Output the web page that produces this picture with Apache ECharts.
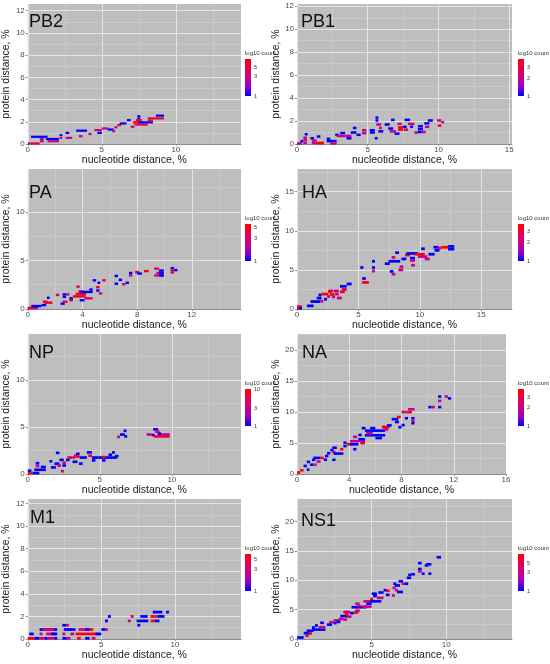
<!DOCTYPE html>
<html>
<head>
<meta charset="utf-8">
<script src="https://cdn.jsdelivr.net/npm/echarts@6/dist/echarts.min.js"></script>
<style>
  html, body { margin: 0; padding: 0; background: #fff; }
  #main { width: 550px; height: 664px; }
</style>
</head>
<body>
<div id="main"></div>
<script>
// each cell run: [x start, x end, protein distance (bin centre), count]
var pb2Cells = [
  [0.00, 0.20, 0.05, 3], [0.20, 0.55, 0.05, 6], [0.55, 0.80, 0.05, 3],
  [0.22, 1.33, 0.65, 1], [0.82, 1.08, 0.45, 3], [0.82, 1.08, 0.25, 3],
  [1.22, 2.10, 0.45, 1], [1.33, 2.10, 0.25, 3], [2.15, 2.33, 0.80, 1],
  [2.15, 2.33, 0.55, 3], [2.55, 3.00, 0.55, 3], [2.55, 2.80, 1.00, 1],
  [3.27, 4.00, 1.20, 1], [3.45, 3.70, 0.70, 3], [4.10, 4.30, 0.90, 3],
  [4.50, 5.00, 1.25, 3], [4.70, 5.00, 1.00, 1], [5.00, 5.45, 1.40, 3],
  [5.40, 5.80, 1.30, 1], [5.70, 5.90, 1.15, 3], [5.85, 6.05, 1.50, 3],
  [6.05, 6.30, 1.70, 6], [6.20, 6.67, 1.85, 1], [6.70, 6.95, 2.15, 1],
  [6.95, 7.20, 1.55, 3], [7.10, 7.45, 1.95, 6], [7.40, 7.60, 2.30, 1],
  [7.40, 7.60, 2.50, 1], [7.30, 7.70, 2.15, 6], [7.20, 8.10, 1.75, 6],
  [7.45, 8.45, 1.95, 1], [8.10, 8.45, 2.10, 3], [8.10, 9.20, 2.30, 6],
  [8.65, 9.20, 2.55, 1]
];
var pb1Cells = [
  [0.00, 0.35, 0.05, 2], [0.25, 0.45, 0.25, 1], [0.45, 0.70, 0.10, 2],
  [0.45, 0.70, 0.35, 2], [0.45, 0.70, 0.55, 2], [0.55, 0.75, 0.85, 1],
  [0.95, 1.20, 0.50, 1], [1.05, 1.40, 0.30, 2], [1.05, 1.90, 0.08, 2],
  [1.40, 1.90, 0.08, 4], [1.40, 1.65, 0.65, 1], [2.10, 2.35, 0.45, 1],
  [2.10, 2.80, 0.25, 1], [2.35, 2.80, 0.05, 2], [2.70, 2.95, 0.80, 1],
  [2.80, 3.40, 0.70, 2], [3.05, 3.40, 0.95, 1], [3.40, 3.85, 0.70, 2],
  [3.50, 3.85, 0.50, 1], [3.80, 4.20, 1.00, 1], [3.95, 4.20, 1.40, 1],
  [4.20, 4.50, 0.80, 1], [4.60, 4.90, 0.95, 2], [4.60, 4.90, 1.20, 2],
  [5.15, 5.50, 1.00, 1], [5.15, 5.50, 1.20, 1], [5.50, 5.70, 0.50, 1],
  [5.55, 5.75, 2.05, 1], [5.55, 5.75, 2.30, 1], [5.60, 5.95, 1.70, 2],
  [5.75, 6.10, 1.10, 1], [5.80, 6.00, 1.40, 2], [6.20, 6.55, 1.70, 1],
  [6.45, 6.80, 1.35, 1], [6.55, 7.00, 1.10, 2], [6.65, 6.90, 2.10, 1],
  [6.90, 7.25, 0.90, 1], [7.15, 7.50, 1.25, 4], [7.15, 7.50, 1.45, 4],
  [7.10, 7.40, 1.75, 2], [7.50, 7.75, 1.50, 1], [7.55, 7.85, 1.25, 2],
  [7.60, 8.00, 2.10, 1], [7.85, 8.30, 1.75, 2], [8.00, 8.20, 1.50, 1],
  [8.30, 8.55, 1.00, 2], [8.55, 8.90, 1.05, 1], [8.55, 8.90, 1.30, 1],
  [8.55, 8.90, 1.55, 1], [8.80, 9.10, 1.05, 2], [9.00, 9.35, 1.80, 1],
  [9.25, 9.60, 2.05, 1], [9.05, 9.35, 1.50, 2], [9.95, 10.20, 1.60, 4],
  [9.90, 10.20, 2.05, 2], [10.20, 10.40, 1.90, 2]
];
var paCells = [
  [0.00, 0.75, 0.10, 3], [0.00, 0.30, 0.10, 5], [0.25, 1.00, 0.30, 1],
  [1.00, 1.35, 0.40, 1], [1.10, 1.45, 0.75, 3], [1.20, 1.80, 0.65, 5],
  [1.40, 1.60, 1.15, 1], [2.05, 2.30, 1.45, 3], [2.40, 2.70, 0.55, 1],
  [2.55, 2.80, 1.50, 1], [2.55, 2.80, 1.25, 1], [2.55, 2.90, 0.75, 3],
  [2.80, 3.05, 1.50, 3], [3.05, 3.30, 0.90, 5], [3.05, 3.30, 1.10, 1],
  [3.55, 3.80, 2.30, 3], [3.30, 4.25, 1.30, 5], [3.50, 4.25, 1.55, 5],
  [3.70, 4.10, 1.80, 3], [3.80, 4.75, 1.75, 1], [3.80, 4.15, 0.90, 1],
  [4.15, 4.75, 1.10, 3], [4.50, 4.75, 2.00, 1], [4.75, 5.00, 2.95, 1],
  [5.10, 5.30, 2.70, 1], [5.00, 5.25, 2.25, 5], [5.00, 5.25, 1.90, 1],
  [5.20, 5.45, 1.60, 3], [5.45, 5.70, 2.95, 5], [6.35, 6.60, 3.40, 1],
  [6.35, 6.60, 2.60, 1], [6.65, 6.90, 3.00, 1], [6.90, 7.15, 2.55, 3],
  [7.15, 7.40, 2.70, 1], [7.40, 7.65, 3.45, 3], [7.40, 7.65, 3.70, 1],
  [7.85, 8.15, 3.80, 3], [8.00, 8.35, 3.65, 1], [8.50, 8.85, 3.90, 5],
  [9.25, 9.60, 4.15, 3], [9.25, 9.95, 3.45, 3], [9.60, 9.95, 3.45, 1],
  [9.60, 9.95, 3.70, 1], [9.60, 9.95, 3.95, 1], [9.40, 9.60, 3.70, 3],
  [10.45, 10.70, 4.20, 1], [10.45, 10.70, 3.95, 5], [10.70, 10.95, 4.00, 1],
  [10.45, 10.70, 3.75, 3]
];
var haCells = [
  [0.00, 0.40, 0.30, 4], [0.00, 0.40, 0.10, 2], [0.15, 0.40, 0.10, 1],
  [0.80, 1.35, 0.40, 1], [1.10, 1.90, 0.95, 1], [1.60, 2.00, 1.40, 1],
  [1.90, 2.15, 1.00, 2], [1.75, 2.00, 1.80, 1], [2.00, 2.55, 1.90, 4],
  [2.20, 2.45, 1.25, 1], [2.45, 2.70, 1.60, 2], [2.55, 2.95, 2.30, 2],
  [2.55, 2.80, 2.20, 4], [2.85, 3.10, 1.55, 2], [2.70, 3.05, 1.85, 4],
  [3.00, 3.40, 2.30, 2], [3.10, 3.40, 1.90, 2], [3.25, 3.65, 1.40, 2],
  [3.50, 3.90, 2.20, 4], [3.50, 4.05, 2.90, 1], [3.65, 4.05, 2.50, 2],
  [4.05, 4.45, 3.20, 1], [5.15, 5.40, 5.30, 1], [5.30, 5.60, 3.90, 1],
  [5.30, 5.85, 3.40, 4], [6.10, 6.35, 6.10, 1], [6.10, 6.35, 5.30, 1],
  [6.10, 6.35, 4.85, 2], [7.15, 7.55, 5.80, 1], [7.45, 8.40, 6.10, 1],
  [7.55, 7.85, 4.80, 1], [7.70, 8.00, 4.45, 2], [7.70, 8.00, 6.60, 2],
  [8.00, 8.30, 7.20, 1], [8.25, 8.65, 5.00, 2], [8.35, 8.65, 5.40, 2],
  [8.50, 8.90, 6.40, 1], [8.80, 9.20, 6.90, 4], [8.90, 9.85, 7.10, 1],
  [9.20, 9.60, 6.50, 1], [9.20, 9.60, 6.20, 2], [9.30, 9.60, 5.60, 2],
  [9.60, 10.40, 7.00, 4], [9.85, 10.60, 6.70, 2], [10.10, 10.40, 7.70, 1],
  [10.40, 10.80, 6.40, 2], [10.70, 11.20, 7.00, 1], [11.10, 11.50, 7.90, 1],
  [11.20, 11.60, 7.50, 1], [11.45, 11.75, 7.80, 2], [11.75, 12.30, 7.90, 4],
  [12.30, 12.80, 8.00, 1], [12.30, 12.80, 7.65, 1]
];
var npCells = [
  [0.00, 0.35, 0.10, 8], [0.00, 0.25, 0.35, 1], [0.35, 0.80, 0.10, 1],
  [0.55, 0.80, 0.85, 3], [0.55, 0.80, 1.15, 1], [0.45, 1.25, 0.45, 1],
  [0.90, 1.25, 0.75, 1], [1.50, 1.70, 1.35, 1], [1.60, 1.95, 0.70, 1],
  [1.95, 2.20, 2.25, 1], [1.85, 2.20, 1.10, 1], [2.05, 2.30, 0.90, 3],
  [2.20, 2.50, 1.50, 1], [2.30, 2.50, 0.30, 3], [2.40, 2.65, 1.20, 3],
  [2.40, 2.65, 0.90, 1], [2.65, 2.90, 1.50, 1], [2.75, 3.10, 1.75, 3],
  [3.10, 3.30, 1.75, 8], [3.10, 3.45, 1.30, 1], [3.20, 3.45, 1.95, 3],
  [3.35, 3.60, 2.15, 1], [3.35, 3.60, 1.85, 8], [3.55, 3.80, 1.10, 1],
  [3.60, 4.10, 1.75, 1], [4.10, 4.45, 2.30, 1], [4.20, 4.45, 1.95, 8],
  [4.45, 4.70, 1.45, 1], [4.45, 4.90, 1.75, 1], [4.90, 6.20, 1.75, 1],
  [5.15, 5.40, 1.80, 8], [5.15, 5.40, 1.45, 1], [5.60, 5.85, 2.05, 1],
  [5.85, 6.05, 2.30, 1], [6.05, 6.30, 1.90, 1], [6.20, 6.40, 3.95, 3],
  [6.40, 6.75, 4.20, 1], [6.65, 6.85, 4.60, 1], [6.70, 6.90, 4.00, 1],
  [8.25, 8.60, 4.20, 3], [8.60, 8.80, 4.15, 1], [8.70, 9.05, 4.75, 1],
  [8.85, 9.15, 4.50, 3], [8.75, 9.85, 4.00, 8], [9.00, 9.85, 4.20, 3],
  [9.05, 9.25, 4.30, 1]
];
var naCells = [
  [0.00, 0.25, 0.25, 4], [0.25, 0.50, 0.60, 4], [0.75, 0.95, 0.70, 1],
  [0.50, 0.75, 1.30, 1], [0.75, 1.00, 1.95, 1], [1.00, 1.25, 1.50, 1],
  [1.25, 1.50, 1.50, 2], [1.15, 1.40, 2.30, 1], [1.25, 1.80, 2.60, 1],
  [1.80, 2.05, 2.60, 4], [1.50, 1.80, 2.00, 2], [2.05, 2.30, 2.30, 1],
  [2.30, 2.55, 3.35, 1], [2.15, 2.40, 2.90, 1], [2.55, 2.80, 3.85, 1],
  [2.70, 2.95, 2.30, 1], [2.70, 3.05, 4.25, 1], [2.70, 2.95, 3.55, 2],
  [2.80, 3.55, 3.30, 1], [3.30, 3.55, 4.00, 4], [3.55, 3.80, 5.05, 1],
  [3.55, 3.80, 4.50, 1], [3.80, 4.30, 4.80, 4], [4.05, 5.20, 5.30, 2],
  [4.30, 4.60, 6.00, 2], [4.05, 4.70, 4.80, 1], [4.30, 4.55, 4.00, 1],
  [4.70, 5.20, 5.60, 1], [4.85, 5.20, 5.00, 4], [4.95, 5.25, 7.40, 1],
  [4.70, 4.95, 6.30, 1], [5.20, 6.75, 6.25, 1], [5.20, 6.75, 7.00, 1],
  [5.30, 5.80, 6.60, 2], [5.60, 6.00, 7.40, 1], [6.00, 6.50, 5.80, 1],
  [6.50, 7.10, 7.60, 4], [6.60, 7.00, 7.20, 2], [6.90, 7.25, 7.85, 1],
  [7.25, 7.75, 8.85, 1], [7.50, 7.80, 8.40, 1], [7.65, 7.95, 9.20, 4],
  [7.75, 8.00, 7.55, 1], [8.00, 8.25, 7.90, 1], [8.00, 8.40, 10.00, 2],
  [8.40, 8.80, 10.00, 4], [8.50, 9.00, 10.45, 2], [8.25, 8.50, 9.00, 1],
  [8.75, 9.00, 9.00, 1], [8.75, 9.00, 8.20, 1], [8.75, 9.00, 8.60, 2],
  [10.05, 10.30, 10.80, 1], [10.30, 10.55, 10.80, 2], [10.80, 11.05, 10.80, 1],
  [10.80, 11.05, 11.80, 2], [10.80, 11.05, 12.50, 1], [11.30, 11.55, 12.50, 2],
  [11.55, 11.80, 12.20, 1]
];
var m1Cells = [
  [0.00, 0.45, 0.06, 6], [0.45, 0.80, 0.06, 1], [0.80, 1.15, 0.06, 3],
  [1.15, 1.35, 0.06, 1], [1.35, 1.80, 0.06, 3], [1.80, 2.00, 0.06, 1],
  [2.35, 2.65, 0.06, 1], [2.65, 2.90, 0.06, 3], [3.35, 3.60, 0.06, 6],
  [3.90, 4.20, 0.06, 1], [4.35, 4.60, 0.06, 3], [0.10, 0.40, 0.45, 1],
  [0.80, 1.00, 0.45, 3], [1.25, 1.90, 0.45, 3], [1.60, 2.00, 0.45, 1],
  [2.35, 2.55, 0.45, 3], [2.90, 3.15, 0.45, 3], [3.25, 4.80, 0.45, 6],
  [4.60, 5.00, 0.45, 1], [0.80, 2.00, 0.84, 1], [1.00, 1.80, 0.84, 3],
  [2.45, 3.25, 0.84, 1], [3.45, 4.15, 0.84, 3], [4.05, 4.45, 0.84, 6],
  [3.90, 4.20, 0.84, 1], [5.00, 5.25, 0.84, 1], [5.25, 5.45, 0.84, 3],
  [2.35, 2.60, 1.22, 1], [2.60, 2.80, 1.22, 3], [5.25, 5.45, 1.60, 1],
  [5.45, 5.65, 2.00, 1], [6.80, 7.00, 1.60, 3], [7.00, 7.20, 2.00, 3],
  [7.45, 7.65, 1.22, 1], [7.40, 8.20, 1.60, 1], [7.65, 8.15, 2.00, 1],
  [8.35, 8.65, 1.60, 6], [8.65, 8.95, 1.60, 1], [8.35, 8.60, 2.00, 6],
  [8.60, 8.85, 2.00, 3], [8.85, 9.30, 2.00, 1], [8.50, 9.15, 2.38, 1],
  [9.40, 9.60, 2.38, 1]
];
var ns1Cells = [
  [0.00, 0.45, 0.25, 1], [0.45, 0.80, 1.00, 1], [0.55, 0.80, 0.60, 3],
  [0.65, 1.10, 1.40, 1], [0.80, 1.00, 0.95, 8], [1.00, 1.20, 1.95, 1],
  [1.00, 1.90, 1.60, 1], [1.45, 1.90, 2.00, 3], [1.20, 1.40, 2.30, 1],
  [1.55, 1.80, 2.75, 1], [2.00, 2.35, 2.45, 1], [2.15, 2.45, 2.85, 3],
  [2.45, 2.65, 2.70, 1], [2.45, 2.90, 3.15, 3], [2.65, 2.90, 2.90, 1],
  [2.80, 3.10, 3.40, 3], [2.90, 3.35, 3.90, 1], [3.10, 3.35, 3.30, 3],
  [3.10, 3.55, 4.60, 3], [3.20, 3.45, 4.20, 8], [3.35, 3.65, 3.80, 3],
  [3.55, 3.80, 4.40, 1], [3.65, 4.65, 5.40, 1], [3.90, 4.20, 4.80, 3],
  [3.80, 4.10, 4.50, 8], [3.90, 4.20, 6.00, 3], [4.05, 4.30, 5.60, 3],
  [4.35, 4.65, 5.50, 3], [4.45, 4.90, 6.40, 3], [4.65, 5.00, 6.00, 1],
  [4.55, 5.00, 5.50, 3], [4.90, 5.10, 6.80, 8], [4.90, 5.65, 6.40, 1],
  [5.00, 5.35, 7.70, 1], [5.10, 5.35, 7.30, 1], [5.35, 5.80, 7.00, 3],
  [5.45, 5.80, 7.90, 1], [5.80, 6.00, 8.30, 1], [5.95, 6.20, 8.20, 8],
  [5.95, 6.20, 7.50, 1], [6.35, 6.55, 7.40, 3], [6.45, 6.65, 9.40, 1],
  [6.40, 6.60, 8.70, 3], [6.55, 6.75, 8.30, 3], [6.55, 6.90, 9.10, 1],
  [6.80, 7.10, 9.80, 1], [6.70, 7.10, 8.00, 1], [7.00, 7.20, 9.40, 3],
  [7.20, 7.45, 9.40, 1], [7.35, 7.65, 10.40, 1], [7.45, 7.65, 10.90, 1],
  [7.65, 7.90, 11.00, 1], [8.10, 8.35, 12.90, 1], [8.10, 8.35, 11.90, 1],
  [8.10, 8.35, 11.50, 3], [8.35, 8.55, 11.10, 1], [8.55, 8.80, 12.50, 1],
  [8.65, 9.00, 12.70, 1], [8.80, 9.00, 11.10, 1], [9.35, 9.65, 13.90, 1]
];

var segmentNames = ['PB2', 'PB1', 'PA', 'HA', 'NP', 'NA', 'M1', 'NS1'];
var segmentCells = [pb2Cells, pb1Cells, paCells, haCells, npCells, naCells, m1Cells, ns1Cells];
var xMaxes = [14.4, 15.2, 15.6, 17.5, 14.8, 16, 14.5, 14.4];
var yMaxes = [12.6, 12.2, 14.4, 17.9, 14.9, 22.6, 12.4, 23.8];
var xSteps = [5, 5, 4, 5, 5, 4, 5, 5];
var ySteps = [2, 2, 5, 5, 5, 5, 2, 5];
var maxCounts = [7.8, 4.2, 6, 4, 10, 4.1, 6.8, 8.7];
var legendTicks = [[1, 3, 5], [1, 2, 3], [1, 3, 5], [1, 2, 3], [1, 3, 10], [1, 2, 3], [1, 3, 5], [1, 3, 5]];

// layout (pixels)
var binHeights = [0.2, 0.22, 0.25, 0.35, 0.28, 0.42, 0.24, 0.45];
var colLeft = [25, 297];
var colWidth = [216, 215];
var rowTop = [4, 169, 334, 499];
var plotH = 140;
var titleTop = [13, 13, 184, 184, 344, 344, 509, 512];
var titleLeft = [29, 301, 29, 302, 29, 302, 30, 301];
var legendLeft = [245, 518];

var font = 'Liberation Sans, Arial, sans-serif';
var rampColors = ['#0000ff', '#9a00c2', '#ca0089', '#e80050', '#ff0000'];
var panelBg = '#bebebe';
var majorLine = '#e4e4e4';
var minorLine = '#d2d2d2';

var grid = [], xAxis = [], yAxis = [], series = [], visualMap = [], title = [], graphic = [];

function cellRenderer(binH) {
  return function (params, api) {
    var p0 = api.coord([api.value(0), api.value(2) + binH / 2]);
    var p1 = api.coord([api.value(1), api.value(2) - binH / 2]);
    return {
      type: 'rect',
      shape: { x: p0[0], y: p0[1], width: p1[0] - p0[0], height: p1[1] - p0[1] },
      style: { fill: api.visual('color') }
    };
  };
}

var rampStops = rampColors.map(function (c, k) {
  return { offset: 1 - k / (rampColors.length - 1), color: c };
});

segmentNames.forEach(function (name, i) {
  var col = i % 2, row = Math.floor(i / 2);
  var width = name === 'NA' ? 209 : colWidth[col];
  grid.push({
    left: colLeft[col], top: rowTop[row], width: width, height: plotH,
    show: true, backgroundColor: panelBg, borderWidth: 0
  });

  var lbl = { fontSize: 8, color: '#4d4d4d', fontFamily: font };
  var nameStyle = { fontSize: 10.5, color: '#1a1a1a', fontFamily: font };
  // main axes: labels, major grid lines
  xAxis.push({
    type: 'value', gridIndex: i, min: 0, max: xMaxes[i], interval: xSteps[i],
    name: 'nucleotide distance, %', nameLocation: 'middle', nameGap: 8, nameTextStyle: nameStyle,
    axisLine: { show: true, lineStyle: { color: '#8c8c8c', width: 1 } },
    axisTick: { show: true, length: 2, lineStyle: { color: '#8c8c8c' } },
    axisLabel: Object.assign({ margin: 2, showMaxLabel: xMaxes[i] % xSteps[i] === 0 }, lbl),
    splitLine: { show: true, showMaxLine: false, lineStyle: { color: majorLine, width: 1 } }
  });
  // minor grid lines
  xAxis.push({
    type: 'value', gridIndex: i, min: 0, max: xMaxes[i], interval: xSteps[i] / 2,
    axisLine: { show: false }, axisTick: { show: false }, axisLabel: { show: false },
    splitLine: { show: true, showMaxLine: false, lineStyle: { color: ['rgba(0,0,0,0)', minorLine], width: 0.6 } }
  });
  yAxis.push({
    type: 'value', gridIndex: i, min: 0, max: yMaxes[i], interval: ySteps[i],
    name: 'protein distance, %', nameLocation: 'middle', nameGap: col === 0 ? 10 : 9, nameTextStyle: nameStyle,
    axisLine: { show: false },
    axisTick: { show: true, length: 2, lineStyle: { color: '#8c8c8c' } },
    axisLabel: Object.assign({ margin: 3, showMaxLabel: false }, lbl),
    splitLine: { show: true, showMaxLine: false, lineStyle: { color: majorLine, width: 1 } }
  });
  yAxis.push({
    type: 'value', gridIndex: i, min: 0, max: yMaxes[i], interval: ySteps[i] / 2,
    axisLine: { show: false }, axisTick: { show: false }, axisLabel: { show: false },
    splitLine: { show: true, showMaxLine: false, lineStyle: { color: ['rgba(0,0,0,0)', minorLine], width: 0.6 } }
  });

  series.push({
    type: 'custom', name: name, coordinateSystem: 'cartesian2d',
    xAxisIndex: 2 * i, yAxisIndex: 2 * i,
    encode: { x: [0, 1], y: 2 },
    renderItem: cellRenderer(binHeights[i]),
    data: segmentCells[i].map(function (c) { return [c[0], c[1], c[2], Math.log10(c[3])]; })
  });

  var lmax = Math.log10(maxCounts[i]);
  var barTop = rowTop[row] + 55, barH = 37, lx = legendLeft[col];
  visualMap.push({
    type: 'continuous', seriesIndex: i, dimension: 3, min: 0, max: lmax,
    inRange: { color: rampColors }, show: false
  });
  // colour bar drawn as a plain gradient box
  graphic.push({
    type: 'rect', left: lx, top: barTop,
    shape: { width: 6, height: barH },
    style: { fill: { type: 'linear', x: 0, y: 0, x2: 0, y2: 1, colorStops: rampStops } }
  });
  graphic.push({
    type: 'text', left: lx, top: barTop - 9,
    style: { text: 'log10 count', fontSize: 6, fill: '#333', fontFamily: font }
  });
  legendTicks[i].forEach(function (v) {
    graphic.push({
      type: 'text', x: lx + 9, y: barTop + barH * (1 - Math.log10(v) / lmax),
      style: { text: String(v), fontSize: 5.5, fill: '#333', fontFamily: font, verticalAlign: 'middle' }
    });
  });

  title.push({
    text: name, left: titleLeft[i], top: titleTop[i], padding: 0,
    textStyle: { fontSize: 18, fontWeight: 'normal', color: '#111', fontFamily: font }
  });
});

var chart = echarts.init(document.getElementById('main'), null, { renderer: 'canvas' });
chart.setOption({
  animation: false,
  backgroundColor: '#fff',
  title: title,
  grid: grid,
  xAxis: xAxis,
  yAxis: yAxis,
  visualMap: visualMap,
  graphic: graphic,
  series: series
});
</script>
</body>
</html>
